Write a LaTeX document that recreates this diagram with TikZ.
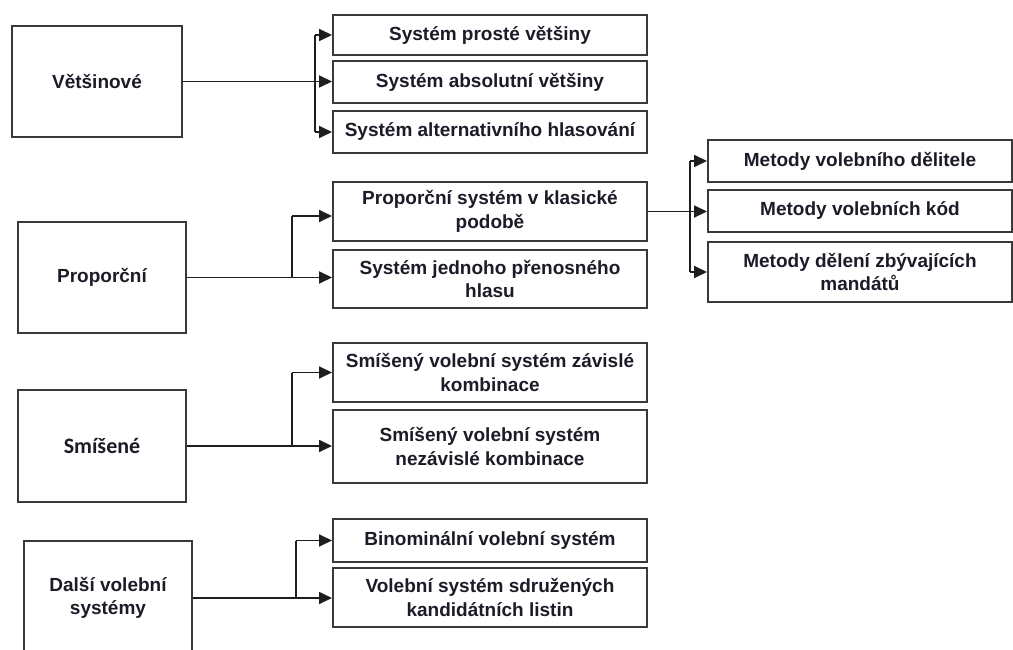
\documentclass[tikz,border=0pt]{standalone}
\usepackage{fontspec}
\setmainfont{Liberation Sans}
\newfontfamily\calfont{Carlito}
\usetikzlibrary{arrows.meta}
\definecolor{txt}{HTML}{1C1C28}
\definecolor{edge}{HTML}{3A3A3A}
\definecolor{wire}{HTML}{1E1E1E}
\tikzset{
  box/.style={draw=edge, line width=2pt, fill=white, inner sep=0pt, align=center,
    font=\fontsize{19}{23.5}\selectfont\bfseries, text=txt},
  leftbox/.style={box, minimum width=168pt, minimum height=111pt},
  rbox/.style={box, minimum width=314pt},
  mbox/.style={box, minimum width=304pt},
  ln/.style={draw=wire, line width=1.8pt},
  arr/.style={ln, -{Triangle[length=13pt,width=12pt]}},
}
\begin{document}
\begin{tikzpicture}[x=1pt,y=-1pt]
\useasboundingbox (0,0) rectangle (1013,650);
\clip (0,0) rectangle (1013,650);
% left boxes
\node[leftbox, minimum width=170pt] (V) at (97,81.5) {Většinové};
\node[leftbox] (P) at (102,277.5) {Proporční};
\node[leftbox, minimum height=112pt, font=\calfont\fontsize{22}{26}\selectfont\bfseries] (S) at (102,446) {Smíšené};
\node[leftbox, minimum height=114pt] (D) at (108,598) {Další volební\\systémy};
% majority
\node[rbox, minimum height=40pt] (A1) at (490,35) {Systém prosté většiny};
\node[rbox, minimum height=42pt] (A2) at (490,82) {Systém absolutní většiny};
\node[rbox, minimum height=42pt] (A3) at (490,132) {Systém alternativního hlasování};
% proportional
\node[rbox, minimum height=59pt] (PK) at (490,211.5) {Proporční systém v klasické\\podobě};
\node[rbox, minimum height=58pt] (SJ) at (490,279) {Systém jednoho přenosného\\hlasu};
\node[mbox, minimum height=42pt] (M1) at (860,161) {Metody volebního dělitele};
\node[mbox, minimum height=42pt] (M2) at (860,211) {Metody volebních kód};
\node[mbox, minimum height=60pt] (M3) at (860,272) {Metody dělení zbývajících\\mandátů};
% mixed
\node[rbox, minimum height=59pt] (SV1) at (490,372.5) {Smíšený volební systém závislé\\kombinace};
\node[rbox, minimum height=73pt] (SV2) at (490,446.5) {Smíšený volební systém\\nezávislé kombinace};
% other
\node[rbox, minimum height=43pt] (B) at (490,540.5) {Binominální volební systém};
\node[rbox, minimum height=59pt] (VS) at (490,597.5) {Volební systém sdružených\\kandidátních listin};
% bus coordinates
\coordinate (b1) at (315,0);
\coordinate (b2) at (292,0);
\coordinate (b3) at (292,0);
\coordinate (b4) at (296,0);
\coordinate (b5) at (690,0);
\coordinate (pkin) at ([yshift=-4.5pt]PK.west);
% majority connectors
\draw[arr] (V.east) -- (V.east -| A2.west);
\draw[ln] (b1 |- A1.west) -- (b1 |- A3.west);
\draw[arr] (b1 |- A1.west) -- (A1.west);
\draw[arr] (b1 |- A3.west) -- (A3.west);
% proportional connectors
\draw[arr] (P.east) -- (P.east -| SJ.west);
\draw[ln] (b2 |- P.east) -- (b2 |- pkin);
\draw[arr] (b2 |- pkin) -- (pkin);
\draw[arr] (PK.east) -- (PK.east -| M2.west);
\draw[ln] (b5 |- M1.west) -- (b5 |- M3.west);
\draw[arr] (b5 |- M1.west) -- (M1.west);
\draw[arr] (b5 |- M3.west) -- (M3.west);
% mixed connectors
\draw[arr] (S.east) -- (S.east -| SV2.west);
\draw[ln] (b3 |- S.east) -- (b3 |- SV1.west);
\draw[arr] (b3 |- SV1.west) -- (SV1.west);
% other connectors
\draw[arr] (D.east) -- (D.east -| VS.west);
\draw[ln] (b4 |- D.east) -- (b4 |- B.west);
\draw[arr] (b4 |- B.west) -- (B.west);
\end{tikzpicture}
\end{document}
